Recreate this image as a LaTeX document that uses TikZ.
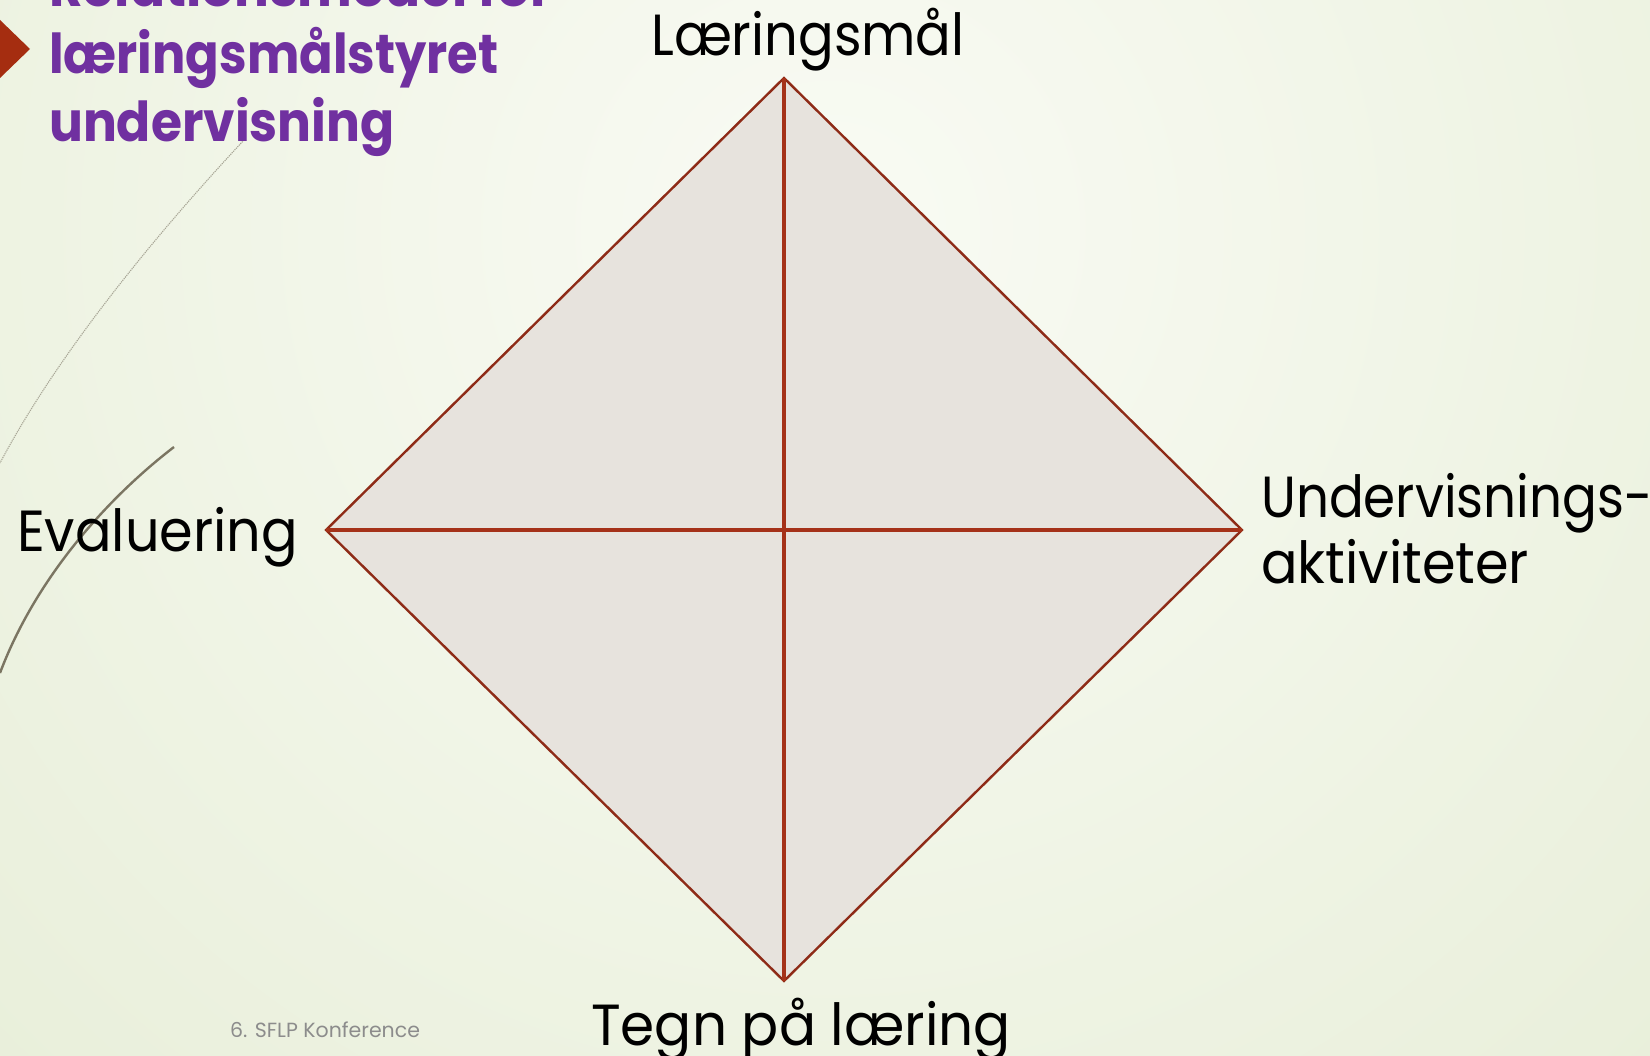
\documentclass[tikz,border=0pt]{standalone}
\usepackage{fontspec}
\usepackage{graphicx}
\setmainfont{Poppins}
\definecolor{bgin}{HTML}{F9FBF4}
\definecolor{bgout}{HTML}{DFE8CB}
\definecolor{edgecol}{HTML}{8E2B17}
\definecolor{crosscol}{HTML}{A53219}
\definecolor{diafill}{HTML}{E7E3DD}
\definecolor{titlecol}{HTML}{7030A0}
\definecolor{markcol}{HTML}{A52D10}
\definecolor{footcol}{HTML}{8C8C8C}
\definecolor{curvecol}{HTML}{7B7562}
\definecolor{dotcol}{HTML}{A8A696}
\begin{document}
\begin{tikzpicture}[x=1pt,y=-1pt,
  label/.style={font=\fontsize{58}{60}\selectfont, text=black, inner sep=0pt},
  titletext/.style={font=\fontsize{55}{67}\selectfont\bfseries, text=titlecol, inner sep=0pt},
  diaedge/.style={draw=edgecol, line width=2.4pt, line join=miter},
  crossline/.style={draw=crosscol, line width=4.2pt}]
\path[use as bounding box, clip] (0,0) rectangle (1650,1056);
% background
\fill[bgout] (0,0) rectangle (1650,1056);
\shade[inner color=bgin, outer color=bgout] (830,230) circle (1900);
% decorative curves
\draw[dotcol, line width=1.1pt, dash pattern=on 1.2pt off 0.9pt] (244,140) .. controls (160,230) and (60,350) .. (0,463);
\draw[curvecol, line width=2.4pt] (174,447) .. controls (105,500) and (35,580) .. (0,673);
% title marker
\fill[markcol] (0,20) -- (30,49) -- (0,78) -- cycle;
% title
\node[titletext, anchor=base west] (t0) at (49,7) {\scalebox{0.94}[1]{Relationsmodel for}};
\node[titletext, anchor=base west] (t1) at (49,74) {\scalebox{0.9}[1]{læringsmålstyret}};
\node[titletext, anchor=base west] (t2) at (49,142) {\scalebox{0.914}[1]{undervisning}};
% diamond
\coordinate (top) at (784,78);
\coordinate (left) at (326,530);
\coordinate (right) at (1242,530);
\coordinate (bottom) at (784,981);
\path[diaedge, fill=diafill] (top) -- (right) -- (bottom) -- (left) -- cycle;
\draw[crossline] (top) -- (bottom);
\draw[crossline] (left) -- (right);
% labels
\node[label, anchor=base west] (lm) at (651,56) {\scalebox{0.91}[1]{Læringsmål}};
\node[label, anchor=base west] (ev) at (17,551) {\scalebox{0.933}[1]{Evaluering}};
\node[label, anchor=base west] (ua) at (1261,518) {\scalebox{0.89}[1]{Undervisnings-}};
\node[label, anchor=base west] (ua2) at (1261,583) {\scalebox{0.933}[1]{aktiviteter}};
\node[label, anchor=base west] (tl) at (591,1045) {\scalebox{0.947}[1]{Tegn på læring}};
\node[font=\fontsize{20.5}{22}\selectfont, text=footcol, anchor=base west, inner sep=0pt] (ft) at (230,1037) {6. SFLP Konference};
\end{tikzpicture}
\end{document}
